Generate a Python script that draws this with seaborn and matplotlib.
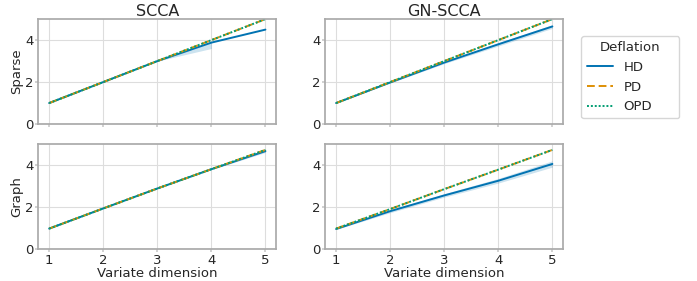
import matplotlib
matplotlib.use("Agg")
import matplotlib.pyplot as plt
import numpy as np
import pandas as pd
import seaborn as sns

dims = [1, 2, 3, 4, 5]
methods = ["SCCA", "GN-SCCA"]
regs = ["Sparse", "Graph"]
deflations = ["HD", "PD", "OPD"]

# mean curves per (regulariser, method, deflation)
sparse_scca_hd = [1.0, 2.0, 3.0, 3.88, 4.5]
sparse_scca_pd = [1.0, 2.0, 3.0, 4.0, 5.0]
sparse_scca_opd = [1.0, 2.0, 3.0, 4.0, 5.0]
sparse_gn_hd = [1.0, 1.98, 2.93, 3.8, 4.65]
sparse_gn_pd = [1.0, 2.0, 3.0, 4.0, 5.0]
sparse_gn_opd = [1.0, 2.0, 3.0, 4.0, 5.0]
graph_scca_hd = [0.97, 1.93, 2.88, 3.8, 4.66]
graph_scca_pd = [0.97, 1.93, 2.88, 3.8, 4.72]
graph_scca_opd = [0.97, 1.93, 2.88, 3.8, 4.72]
graph_gn_hd = [0.95, 1.8, 2.55, 3.25, 4.05]
graph_gn_pd = [0.97, 1.9, 2.85, 3.78, 4.72]
graph_gn_opd = [0.97, 1.9, 2.85, 3.78, 4.72]

# HD confidence bands (NaN where no band is drawn)
sparse_scca_hd_lo = [1.0, 2.0, 3.0, 3.6, np.nan]
sparse_scca_hd_hi = [1.0, 2.0, 3.0, 3.95, np.nan]
sparse_gn_hd_lo = [1.0, 1.96, 2.88, 3.72, 4.56]
sparse_gn_hd_hi = [1.0, 2.0, 2.97, 3.87, 4.73]
graph_scca_hd_lo = [0.97, 1.93, 2.88, 3.78, 4.6]
graph_scca_hd_hi = [0.97, 1.93, 2.88, 3.82, 4.74]
graph_gn_hd_lo = [0.93, 1.73, 2.47, 3.14, 3.9]
graph_gn_hd_hi = [0.97, 1.87, 2.63, 3.36, 4.2]

curves = {
    ("Sparse", "SCCA"): [sparse_scca_hd, sparse_scca_pd, sparse_scca_opd],
    ("Sparse", "GN-SCCA"): [sparse_gn_hd, sparse_gn_pd, sparse_gn_opd],
    ("Graph", "SCCA"): [graph_scca_hd, graph_scca_pd, graph_scca_opd],
    ("Graph", "GN-SCCA"): [graph_gn_hd, graph_gn_pd, graph_gn_opd],
}
bands = {
    ("Sparse", "SCCA"): (sparse_scca_hd_lo, sparse_scca_hd_hi),
    ("Sparse", "GN-SCCA"): (sparse_gn_hd_lo, sparse_gn_hd_hi),
    ("Graph", "SCCA"): (graph_scca_hd_lo, graph_scca_hd_hi),
    ("Graph", "GN-SCCA"): (graph_gn_hd_lo, graph_gn_hd_hi),
}

sns.set_theme(style="whitegrid")
plt.rcParams["font.family"] = ["DejaVu Sans"]
plt.rcParams["axes.edgecolor"] = "#aaaaaa"
plt.rcParams["grid.color"] = "#dddddd"
plt.rcParams["grid.linewidth"] = 0.8
plt.rcParams["xtick.bottom"] = True
plt.rcParams["ytick.left"] = True

palette = sns.color_palette("colorblind", 3)
dashes = {"HD": "", "PD": (4, 2), "OPD": (1, 1)}

fig, axes = plt.subplots(2, 2, figsize=(6.97, 2.81), dpi=100, sharex=True)
fig.subplots_adjust(left=0.055, right=0.808, top=0.932, bottom=0.114,
                    wspace=0.206, hspace=0.19)

for i, reg in enumerate(regs):
    for j, meth in enumerate(methods):
        ax = axes[i, j]
        rows = []
        for d, ys in zip(deflations, curves[(reg, meth)]):
            for x, y in zip(dims, ys):
                rows.append({"dim": x, "value": y, "Deflation": d})
        df = pd.DataFrame(rows)
        sns.lineplot(data=df, x="dim", y="value", hue="Deflation",
                     style="Deflation", dashes=dashes, palette=palette,
                     linewidth=1.4, ax=ax, legend=(i == 0 and j == 1))
        lo, hi = bands[(reg, meth)]
        ax.fill_between(dims, lo, hi, color=palette[0], alpha=0.2, linewidth=0)
        ax.set_ylim(0, 5)
        ax.set_yticks([0, 2, 4])
        ax.set_xticks(dims)
        ax.tick_params(labelsize=9.5, length=2, color="#cccccc", pad=1.5)
        ax.set_xlabel("Variate dimension" if i == 1 else "", fontsize=9.5, labelpad=0)
        ax.set_ylabel(reg if j == 0 else "", fontsize=9.5, labelpad=1)
        if i == 0:
            ax.set_title(meth, fontsize=11.5, pad=2)

# legend box is wider than its entries in the reference, so expand it
leg = axes[0, 1].legend(title="Deflation", loc="upper left",
                        bbox_to_anchor=(1.076, 0.0, 0.412, 0.838),
                        mode="expand", borderaxespad=0,
                        fontsize=9.5, title_fontsize=9.5, frameon=True,
                        handlelength=2.0, handletextpad=0.8)

fig.savefig("out.png", dpi=100)
